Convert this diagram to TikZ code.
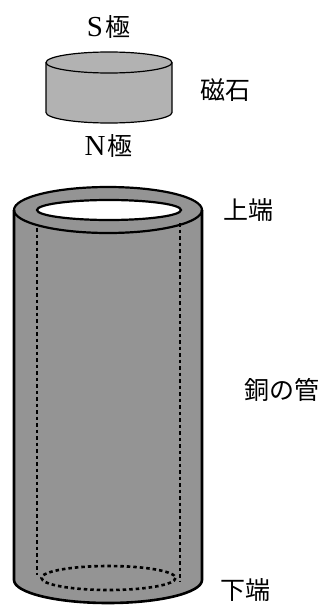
\documentclass[tikz,border=0pt]{standalone}
\usepackage{fontspec}
\setmainfont{Liberation Serif}
\newfontfamily\jp{Noto Sans CJK JP}
\begin{document}
\begin{tikzpicture}[x=1pt,y=-1pt,
  lbl/.style={inner sep=0pt,font=\jp\fontsize{25}{25}\selectfont},
  pole/.style={inner sep=0pt,font=\fontsize{29}{29}\selectfont},
  tubefill/.style={fill=black!42},
  magfill/.style={fill=black!30},
  hidden/.style={line width=2.6pt,dash pattern=on 3.5pt off 3pt}]
\useasboundingbox (0,0) rectangle (325,605);

% ---- magnet ----
\fill[magfill] (46,62.5) -- (46,112.5)
  arc[start angle=180,end angle=0,x radius=63,y radius=10.5]
  -- (172,62.5)
  arc[start angle=0,end angle=-180,x radius=63,y radius=10.5] -- cycle;
\draw[line width=1.2pt] (46,62.5) -- (46,112.5)
  arc[start angle=180,end angle=0,x radius=63,y radius=10.5]
  -- (172,62.5);
\draw[line width=1.2pt] (109,62.5) ellipse[x radius=63,y radius=10.5];

\node[pole] (spole) at (108.5,27) {S\kern2pt{\jp\fontsize{25}{25}\selectfont 極}};
\node[pole] (npole) at (108.5,146) {N\kern2pt{\jp\fontsize{25}{25}\selectfont 極}};
\node[lbl] (magnet) at (225.5,90) {磁石};

% ---- copper pipe ----
% body
\fill[tubefill] (14,210) -- (14,580)
  arc[start angle=180,end angle=0,x radius=94,y radius=23]
  -- (202,210)
  arc[start angle=0,end angle=-180,x radius=94,y radius=23] -- cycle;
% hidden inner wall
\draw[hidden] (37,228) -- (37,575);
\draw[hidden] (180,223) -- (180,582);
\draw[hidden] (108.5,578) ellipse[x radius=67,y radius=12];
% outline
\draw[line width=2.6pt,line join=round] (14,210) -- (14,580)
  arc[start angle=180,end angle=0,x radius=94,y radius=23]
  -- (202,210);
% top rim
\draw[line width=2.2pt] (108,210) ellipse[x radius=94,y radius=23];
\draw[line width=2.2pt,fill=white] (109,210) ellipse[x radius=72,y radius=10];

\node[lbl] (top) at (248,210) {上端};
\node[lbl] (pipe) at (281.5,390) {銅の管};
\node[lbl] (bottom) at (245,590) {下端};
\end{tikzpicture}
\end{document}
